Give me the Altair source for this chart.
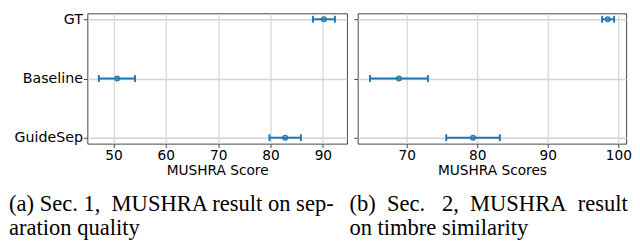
import altair as alt
import pandas as pd

models = ["GT", "Baseline", "GuideSep"]

sep_mean = [90.2, 50.7, 82.8]
sep_low = [88.1, 47.2, 79.8]
sep_high = [92.3, 54.1, 85.8]

tim_mean = [98.5, 68.9, 79.4]
tim_low = [97.7, 64.8, 75.6]
tim_high = [99.4, 73.0, 83.2]

sep_ticks = [50, 60, 70, 80, 90]
tim_ticks = [70, 80, 90, 100]

NB = "\u00a0"
cap_a = ["(a) Sec. 1," + NB + " MUSHRA result on sep-",
         "aration quality"]
cap_b = ["(b)" + NB + " Sec." + NB * 2 + " 2," + NB + " MUSHRA" + NB + " result",
         "on timbre similarity"]

BLUE = "#1f77b4"
FONT = "DejaVu Sans"


def panel(mean, low, high, domain, ticks, xtitle, caption, show_labels, width, dx):
    df = pd.DataFrame({"model": models, "mean": mean, "low": low, "high": high})
    xscale = alt.Scale(domain=domain, nice=False, zero=False)
    yscale = alt.Scale(type="point", padding=0.1)
    yaxis = alt.Axis(title=None, labels=show_labels, labelFontSize=14.5, labelFont=FONT,
                     labelColor="black", labelPadding=1, tickSize=4, tickColor="#444",
                     domain=False, grid=True, gridColor="#d4d4d4", gridWidth=1.4)
    xaxis = alt.Axis(values=ticks, title=xtitle, labelFontSize=14, labelFont=FONT,
                     labelColor="black", labelPadding=1, tickSize=4, tickColor="#444",
                     titleFont=FONT, titleFontSize=14, titleFontWeight="normal",
                     titleColor="black", titlePadding=2, domain=False,
                     grid=True, gridColor="#d0d0d0", gridWidth=1.1)
    base = alt.Chart(df)
    y = alt.Y("model:N", sort=models, scale=yscale, axis=yaxis)
    rule = base.mark_rule(color=BLUE, strokeWidth=2).encode(
        x=alt.X("low:Q", scale=xscale, axis=xaxis), x2="high:Q", y=y)
    cap_lo = base.mark_tick(color=BLUE, thickness=2, size=7, opacity=1).encode(
        x=alt.X("low:Q", scale=xscale), y=y)
    cap_hi = base.mark_tick(color=BLUE, thickness=2, size=7, opacity=1).encode(
        x=alt.X("high:Q", scale=xscale), y=y)
    pt = base.mark_point(shape="circle", size=22, color=BLUE, filled=True,
                         stroke=BLUE, strokeWidth=1.3, fillOpacity=0.35, opacity=1).encode(
        x=alt.X("mean:Q", scale=xscale), y=y)
    return alt.layer(rule, cap_lo, cap_hi, pt).properties(
        width=width, height=133,
        title=alt.TitleParams(text=caption, orient="bottom", anchor="start", frame="bounds",
                              font="Liberation Serif", fontSize=23, fontWeight="normal",
                              lineHeight=24, color="black", offset=16, dx=dx))


left = panel(sep_mean, sep_low, sep_high, [45.0, 94.6], sep_ticks, "MUSHRA Score", cap_a,
             True, 265, -5)
right = panel(tim_mean, tim_low, tim_high, [63.05, 101.1], tim_ticks, "MUSHRA Scores", cap_b,
              False, 274, -4)

chart = alt.hconcat(left, right, spacing=11, bounds="flush",
                    padding={"left": 0, "top": 0, "right": 0, "bottom": 0}).configure_view(
    stroke="#444", strokeWidth=1)

chart.save("out.html", embed_options={"renderer": "svg", "actions": False})
